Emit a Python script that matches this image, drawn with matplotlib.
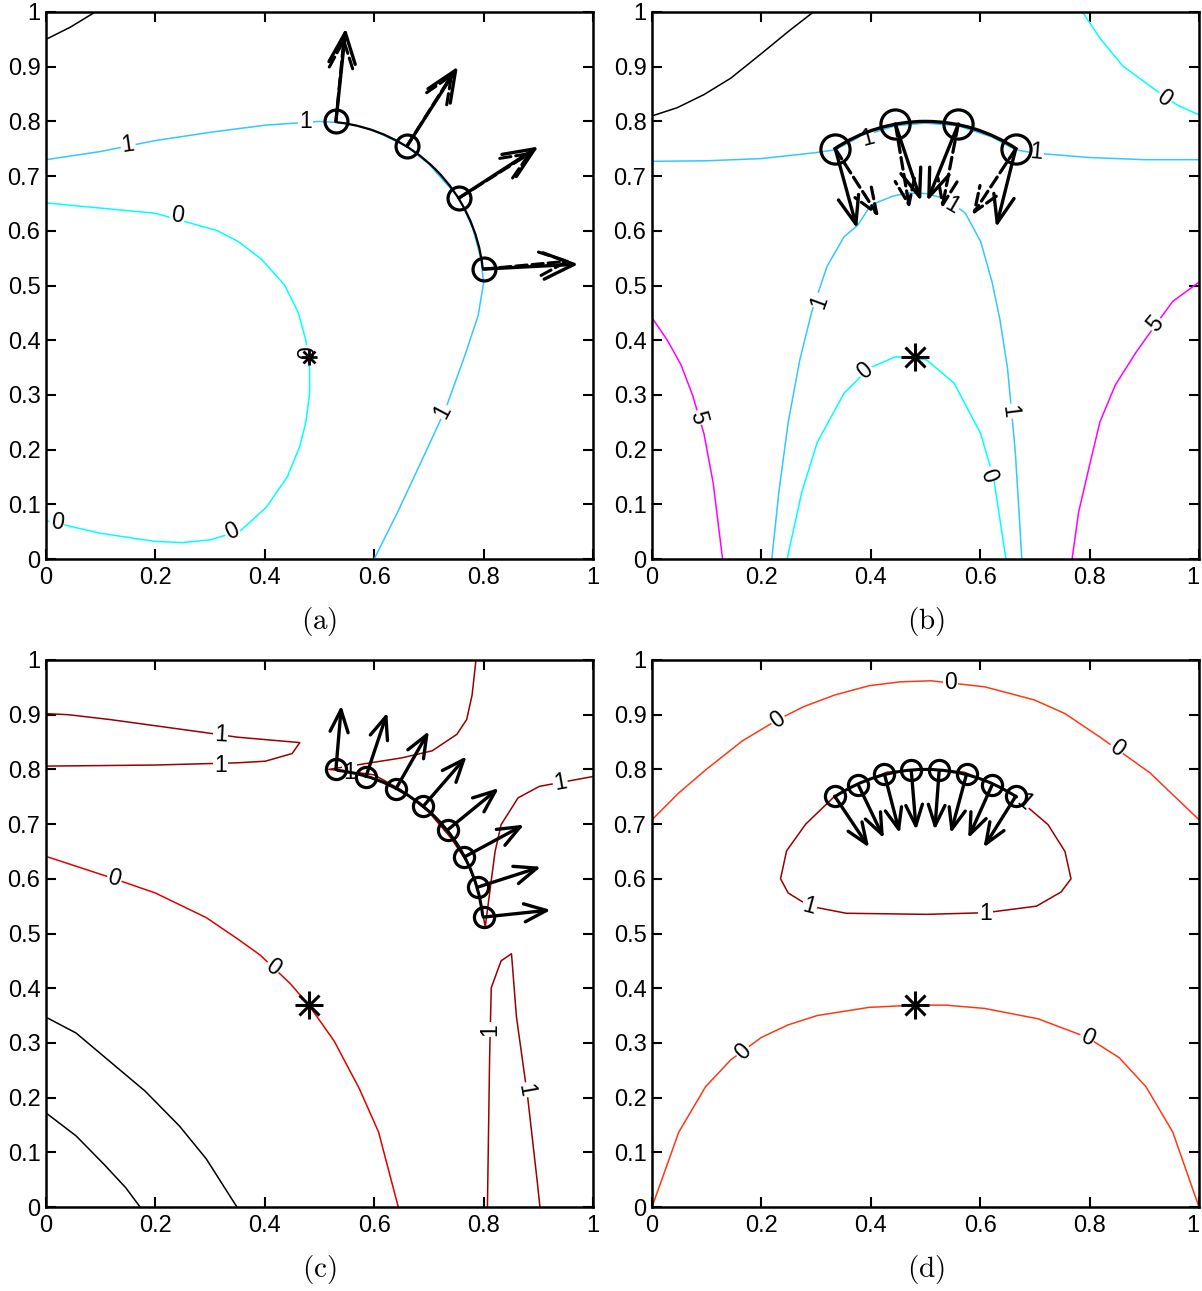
"""
Four contour panels with boundary points and normal arrows
"""
import matplotlib
matplotlib.use("Agg")
from matplotlib import pyplot as plt
from matplotlib.patches import Arc

plt.rcParams["font.family"] = ["Liberation Sans", "DejaVu Sans"]
plt.rcParams["mathtext.fontset"] = "cm"

CYAN0 = "#00ffff"
CYAN1 = "#33c8ff"
MAGENTA = "#ff00ff"
RED0 = "#e00000"
ORANGE0 = "#ff3814"
DARKRED = "#990000"

# ---- panel (a) ----
a_black = [(0, 0.95), (0.044, 0.972), (0.09, 1.0)]
a_one_upper = [(0, 0.73), (0.1, 0.745), (0.2, 0.765), (0.3, 0.78), (0.4, 0.793),
               (0.5, 0.80), (0.55, 0.797), (0.6, 0.783), (0.66, 0.754), (0.7, 0.722),
               (0.755, 0.66), (0.78, 0.605), (0.795, 0.55), (0.80, 0.505),
               (0.79, 0.445), (0.765, 0.37), (0.73, 0.273), (0.685, 0.176),
               (0.643, 0.086), (0.60, 0.0)]
a_zero = [(0, 0.651), (0.2, 0.632), (0.314, 0.60), (0.352, 0.58), (0.394, 0.548),
          (0.436, 0.501), (0.461, 0.451), (0.475, 0.40), (0.482, 0.348),
          (0.482, 0.303), (0.475, 0.25), (0.464, 0.206), (0.441, 0.15),
          (0.403, 0.095), (0.356, 0.052), (0.30, 0.035), (0.25, 0.03),
          (0.2, 0.032), (0.1, 0.047), (0, 0.07)]
a_points = [(0.53, 0.80), (0.66, 0.755), (0.755, 0.66), (0.80, 0.53)]
a_tips = [(0.548, 0.97), (0.753, 0.90), (0.90, 0.754), (0.973, 0.539)]
a_tips_dashed = [(0.545, 0.955), (0.745, 0.89), (0.89, 0.745), (0.96, 0.545)]
a_labels = [(0.15, 0.757, "1", 8), (0.475, 0.80, "1", 0), (0.725, 0.27, "1", 62),
            (0.24, 0.628, "0", -8), (0.34, 0.05, "0", 25), (0.02, 0.066, "0", -8),
            (0.478, 0.378, "0", 90)]

# ---- panel (b) ----
b_black = [(0, 0.81), (0.046, 0.825), (0.095, 0.849), (0.144, 0.879), (0.2, 0.924),
           (0.25, 0.965), (0.295, 1.0)]
b_zero_top = [(0.787, 1.0), (0.819, 0.952), (0.861, 0.901), (0.917, 0.86),
              (0.96, 0.83), (1.0, 0.812)]
b_one_upper = [(0, 0.727), (0.1, 0.728), (0.2, 0.732), (0.3, 0.743), (0.335, 0.748),
               (0.38, 0.772), (0.445, 0.792), (0.5, 0.797), (0.56, 0.792),
               (0.62, 0.772), (0.665, 0.748), (0.7, 0.742), (0.8, 0.734),
               (0.9, 0.73), (1.0, 0.73)]
b_one_arch = [(0.219, 0.0), (0.232, 0.123), (0.249, 0.25), (0.27, 0.363),
              (0.292, 0.452), (0.32, 0.535), (0.351, 0.589), (0.376, 0.61),
              (0.40, 0.647), (0.439, 0.663), (0.467, 0.669), (0.502, 0.668),
              (0.538, 0.658), (0.573, 0.632), (0.601, 0.58), (0.622, 0.505),
              (0.636, 0.438), (0.65, 0.348), (0.664, 0.198), (0.671, 0.086),
              (0.676, 0.0)]
b_zero_arch = [(0.247, 0.0), (0.274, 0.123), (0.302, 0.213), (0.351, 0.303),
               (0.397, 0.349), (0.446, 0.37), (0.502, 0.364), (0.552, 0.322),
               (0.601, 0.229), (0.625, 0.146), (0.647, 0.0)]
b_five_left = [(0, 0.441), (0.028, 0.40), (0.053, 0.355), (0.074, 0.30),
               (0.095, 0.229), (0.112, 0.138), (0.129, 0.0)]
b_five_right = [(0.768, 0.0), (0.78, 0.086), (0.801, 0.176), (0.819, 0.251),
                (0.847, 0.318), (0.885, 0.378), (0.917, 0.423), (0.952, 0.471),
                (1.0, 0.506)]
b_points = [(0.335, 0.75), (0.445, 0.795), (0.56, 0.795), (0.665, 0.75)]
b_tips = [(0.375, 0.604), (0.492, 0.654), (0.503, 0.654), (0.629, 0.606)]
b_tips_dashed = [(0.415, 0.625), (0.471, 0.64), (0.53, 0.64), (0.585, 0.628)]
b_labels = [(0.937, 0.842, "0", -35), (0.394, 0.769, "1", 15), (0.703, 0.744, "1", -5),
            (0.549, 0.646, "1", -30), (0.306, 0.471, "1", 70), (0.654, 0.27, "1", -83),
            (0.39, 0.344, "0", 40), (0.615, 0.153, "0", -70), (0.084, 0.258, "5", -75),
            (0.92, 0.43, "5", 50)]

# ---- panel (c) ----
c_black_outer = [(0, 0.347), (0.055, 0.318), (0.118, 0.265), (0.181, 0.212),
                 (0.244, 0.148), (0.293, 0.088), (0.349, 0.0)]
c_black_inner = [(0, 0.172), (0.055, 0.13), (0.107, 0.077), (0.146, 0.035),
                 (0.172, 0.0)]
c_zero = [(0, 0.641), (0.055, 0.623), (0.125, 0.60), (0.2, 0.574), (0.293, 0.529),
          (0.349, 0.491), (0.391, 0.461), (0.447, 0.408), (0.482, 0.367),
          (0.527, 0.303), (0.573, 0.216), (0.608, 0.137), (0.644, 0.0)]
c_one_wedge = [(0, 0.902), (0.041, 0.90), (0.118, 0.891), (0.286, 0.868),
               (0.349, 0.859), (0.464, 0.849), (0.45, 0.829), (0.401, 0.815),
               (0.349, 0.812), (0.2, 0.808), (0, 0.806)]
c_one_top = [(0.786, 1.0), (0.779, 0.936), (0.769, 0.891), (0.751, 0.864),
             (0.706, 0.834), (0.65, 0.821), (0.517, 0.80), (0.55, 0.797),
             (0.6, 0.79), (0.65, 0.762), (0.7, 0.722), (0.74, 0.675),
             (0.77, 0.63), (0.79, 0.58), (0.803, 0.512), (0.811, 0.574),
             (0.821, 0.65), (0.832, 0.699), (0.863, 0.748), (0.902, 0.769),
             (0.94, 0.776), (1.0, 0.787)]
c_one_low = [(0.807, 0.0), (0.811, 0.273), (0.814, 0.401), (0.832, 0.45),
             (0.851, 0.463), (0.86, 0.348), (0.881, 0.197), (0.898, 0.047),
             (0.903, 0.0)]
c_points = [(0.53, 0.80), (0.585, 0.787), (0.64, 0.765), (0.69, 0.733),
            (0.735, 0.69), (0.765, 0.64), (0.79, 0.585), (0.80, 0.53)]
c_tips = [(0.54, 0.917), (0.624, 0.904), (0.70, 0.87), (0.769, 0.824),
          (0.828, 0.766), (0.874, 0.699), (0.905, 0.622), (0.923, 0.543)]
c_labels = [(0.319, 0.864, "1", -3), (0.319, 0.808, "1", 0), (0.94, 0.776, "1", 10),
            (0.811, 0.325, "1", 90), (0.877, 0.214, "1", -80), (0.555, 0.795, "1", 0),
            (0.125, 0.60, "0", -15), (0.415, 0.438, "0", -35)]

# ---- panel (d) ----
d_zero_top = [(0, 0.708), (0.049, 0.757), (0.098, 0.799), (0.165, 0.852),
              (0.23, 0.891), (0.278, 0.915), (0.334, 0.936), (0.397, 0.953),
              (0.453, 0.96), (0.51, 0.962), (0.608, 0.951), (0.699, 0.927),
              (0.755, 0.902), (0.819, 0.859), (0.91, 0.794), (1.0, 0.708)]
d_zero_low = [(0, 0), (0.049, 0.137), (0.098, 0.22), (0.144, 0.269), (0.2, 0.31),
              (0.249, 0.333), (0.302, 0.35), (0.397, 0.365), (0.481, 0.369),
              (0.538, 0.369), (0.608, 0.363), (0.706, 0.344), (0.796, 0.31),
              (0.854, 0.273), (0.903, 0.22), (0.952, 0.137), (1.0, 0.0)]
d_one_loop = [(0.334, 0.751), (0.38, 0.775), (0.43, 0.795), (0.5, 0.80),
              (0.57, 0.795), (0.62, 0.775), (0.665, 0.751), (0.689, 0.729),
              (0.724, 0.699), (0.755, 0.65), (0.766, 0.60), (0.748, 0.576),
              (0.703, 0.55), (0.61, 0.538), (0.502, 0.535), (0.355, 0.537),
              (0.288, 0.55), (0.249, 0.574), (0.235, 0.60), (0.246, 0.651),
              (0.281, 0.70), (0.334, 0.751)]
d_points = [(0.334, 0.751), (0.377, 0.772), (0.425, 0.791), (0.474, 0.798),
            (0.525, 0.798), (0.575, 0.791), (0.622, 0.772), (0.665, 0.751)]
d_tips = [(0.397, 0.657), (0.424, 0.674), (0.453, 0.683), (0.483, 0.689),
          (0.517, 0.689), (0.546, 0.683), (0.578, 0.674), (0.606, 0.657)]
d_labels = [(0.23, 0.891, "0", 35), (0.545, 0.959, "0", 0), (0.85, 0.838, "0", -35),
            (0.167, 0.284, "0", 45), (0.796, 0.31, "0", -25), (0.288, 0.55, "1", -15),
            (0.61, 0.537, "1", 0), (0.68, 0.74, "1", -40)]

star = (0.48, 0.37)
arc_center = (0.5, 0.5)
arc_radius = 0.3

TICKS_X = [0, 0.2, 0.4, 0.6, 0.8, 1]
TICKS_Y = [0, 0.1, 0.2, 0.3, 0.4, 0.5, 0.6, 0.7, 0.8, 0.9, 1]


def curve(ax, pts, color, lw=1.1):
    xs = [p[0] for p in pts]
    ys = [p[1] for p in pts]
    ax.plot(xs, ys, color=color, lw=lw, zorder=2, solid_joinstyle="round")


def labels(ax, items):
    for x, y, s, rot in items:
        ax.text(x, y, s, fontsize=16.5, rotation=rot, ha="center", va="center",
                rotation_mode="anchor", zorder=2.5,
                bbox=dict(boxstyle="square,pad=0.05", fc="white", ec="none"))


def arrows(ax, bases, tips, hl, hw, ls="-", lw=2.4):
    for (x0, y0), (x1, y1) in zip(bases, tips):
        ax.annotate("", xy=(x1, y1), xytext=(x0, y0), zorder=4,
                    arrowprops=dict(arrowstyle=f"->,head_length={hl},head_width={hw}",
                                    lw=lw, ls=ls, color="k", shrinkA=0, shrinkB=0,
                                    mutation_scale=10))


def points(ax, pts, ms):
    ax.plot([p[0] for p in pts], [p[1] for p in pts], "o", mfc="none", mec="k",
            mew=2.3, ms=ms, zorder=5)


def asterisk(ax, ms, mew):
    ax.plot(star[0], star[1], "+", color="k", ms=ms, mew=mew, zorder=6)
    ax.plot(star[0], star[1], "x", color="k", ms=ms * 0.72, mew=mew, zorder=6)


def boundary(ax, t1, t2, lw):
    ax.add_patch(Arc(arc_center, 2 * arc_radius, 2 * arc_radius, theta1=t1,
                     theta2=t2, color="k", lw=lw, zorder=3))


def frame(ax, tag, right_col):
    ax.set_xlim(0, 1)
    ax.set_ylim(0, 1)
    ax.set_xticks(TICKS_X)
    ax.set_yticks(TICKS_Y)
    ax.set_xticklabels([f"{t:g}" for t in TICKS_X])
    ax.set_yticklabels([f"{t:g}" for t in TICKS_Y])
    ax.tick_params(direction="in", length=7, width=1.5, top=True, right=True,
                   labelsize=17, pad=4)
    ax.tick_params(axis="x", pad=6)
    if right_col:
        ax.get_xticklabels()[-1].set_horizontalalignment("right")
    for sp in ax.spines.values():
        sp.set_linewidth(1.8)
    ax.text(0.5, -0.115, rf"$\mathrm{{({tag})}}$", transform=ax.transAxes,
            ha="center", va="center", fontsize=21)


fig = plt.figure(figsize=(12.02, 12.91), dpi=100)
W, H = 1202, 1291
pos = {"a": (46, 12), "b": (652, 12), "c": (46, 660), "d": (652, 660)}
axes = {}
for k, (px, py) in pos.items():
    axes[k] = fig.add_axes([px / W, 1 - (py + 547) / H, 547 / W, 547 / H])

# (a)
ax = axes["a"]
curve(ax, a_black, "k")
curve(ax, a_one_upper, CYAN1)
curve(ax, a_zero, CYAN0)
labels(ax, a_labels)
boundary(ax, 6, 84, 1.6)
points(ax, a_points, 16.5)
arrows(ax, a_points, a_tips_dashed, 2.0, 0.85, ls="--", lw=2.2)
arrows(ax, a_points, a_tips, 2.2, 0.95)
asterisk(ax, 12, 2.0)
frame(ax, "a", False)

# (b)
ax = axes["b"]
curve(ax, b_black, "k")
curve(ax, b_zero_top, CYAN0)
curve(ax, b_one_upper, CYAN1)
curve(ax, b_one_arch, CYAN1)
curve(ax, b_zero_arch, CYAN0)
curve(ax, b_five_left, MAGENTA)
curve(ax, b_five_right, MAGENTA)
labels(ax, b_labels)
boundary(ax, 56, 124, 2.4)
points(ax, b_points, 21)
arrows(ax, b_points, b_tips_dashed, 1.8, 0.7, ls="--", lw=2.3)
arrows(ax, b_points, b_tips, 2.0, 0.75)
asterisk(ax, 20, 2.2)
frame(ax, "b", True)

# (c)
ax = axes["c"]
curve(ax, c_black_outer, "k")
curve(ax, c_black_inner, "k")
curve(ax, c_zero, RED0)
curve(ax, c_one_wedge, DARKRED)
curve(ax, c_one_top, DARKRED)
curve(ax, c_one_low, DARKRED)
labels(ax, c_labels)
boundary(ax, 6, 84, 2.2)
points(ax, c_points, 14.5)
arrows(ax, c_points, c_tips, 1.6, 0.65)
asterisk(ax, 20, 2.2)
frame(ax, "c", False)

# (d)
ax = axes["d"]
curve(ax, d_zero_top, ORANGE0)
curve(ax, d_zero_low, ORANGE0)
curve(ax, d_one_loop, DARKRED)
labels(ax, d_labels)
boundary(ax, 56, 124, 2.2)
points(ax, d_points, 14.5)
arrows(ax, d_points, d_tips, 1.5, 0.6)
asterisk(ax, 20, 2.2)
frame(ax, "d", True)

fig.savefig("out.png", dpi=100)
